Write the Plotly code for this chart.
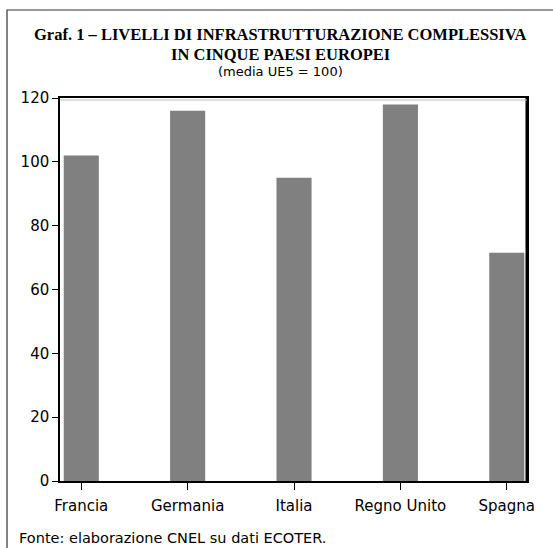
import plotly.graph_objects as go

categories = ["Francia", "Germania", "Italia", "Regno Unito", "Spagna"]
values = [102, 116, 95, 118, 71.5]
y_ticks = [0, 20, 40, 60, 80, 100, 120]

W, H = 553, 548
L, R, T, B = 60, 26, 98, 67
pw, ph = W - L - R, H - T - B

def px_x(x):
    return (x - L) / pw

def px_y(y):
    return (H - B - y) / ph

fig = go.Figure()
fig.add_trace(go.Bar(
    x=list(range(len(categories))), y=values,
    marker=dict(color="#808080", line=dict(width=0)),
    width=0.33,
))

sans = "DejaVu Sans"
serif = "Liberation Serif"
fig.update_layout(
    width=W, height=H,
    margin=dict(l=L, r=R, t=T, b=B),
    paper_bgcolor="white", plot_bgcolor="white",
    showlegend=False,
    xaxis=dict(
        range=[-0.2, 4.19], tickmode="array",
        tickvals=list(range(len(categories))), ticktext=categories,
        showgrid=False, zeroline=False,
        showline=True, linecolor="black", linewidth=1.5, mirror=True,
        ticks="outside", ticklen=7, tickwidth=1.2, tickcolor="black",
        ticklabelstandoff=3,
        tickfont=dict(family=sans, size=15, color="black"),
    ),
    yaxis=dict(
        range=[0, 120], tickmode="array", tickvals=y_ticks,
        ticktext=[str(v) for v in y_ticks],
        showgrid=False, zeroline=False,
        showline=True, linecolor="black", linewidth=1.5, mirror=True,
        ticks="outside", ticklen=6, tickwidth=1.2, tickcolor="black",
        tickfont=dict(family=sans, size=15, color="black"),
    ),
    shapes=[
        dict(type="rect", xref="paper", yref="paper",
             x0=px_x(7), x1=px_x(580), y0=px_y(580), y1=px_y(10),
             line=dict(color="#333333", width=1.2), fillcolor="rgba(0,0,0,0)", layer="below"),
        dict(type="line", xref="paper", yref="paper",
             x0=1, x1=1, y0=0, y1=1, line=dict(color="black", width=3)),
        dict(type="line", xref="paper", yref="paper",
             x0=0, x1=1, y0=px_y(100), y1=px_y(100), line=dict(color="#bbbbbb", width=1)),
    ],
    annotations=[
        dict(text="<b>Graf. 1 – LIVELLI DI INFRASTRUTTURAZIONE COMPLESSIVA</b>",
             xref="paper", yref="paper", x=px_x(280), y=px_y(35),
             xanchor="center", yanchor="middle", showarrow=False,
             font=dict(family=serif, size=16.5, color="black")),
        dict(text="<b>IN CINQUE PAESI EUROPEI</b>",
             xref="paper", yref="paper", x=px_x(280), y=px_y(54),
             xanchor="center", yanchor="middle", showarrow=False,
             font=dict(family=serif, size=16.5, color="black")),
        dict(text="(media UE5 = 100)",
             xref="paper", yref="paper", x=px_x(280), y=px_y(71.5),
             xanchor="center", yanchor="middle", showarrow=False,
             font=dict(family=sans, size=13, color="black")),
        dict(text="Fonte: elaborazione CNEL su dati ECOTER.",
             xref="paper", yref="paper", x=px_x(17), y=px_y(538),
             xanchor="left", yanchor="middle", showarrow=False,
             font=dict(family=sans, size=14.5, color="black")),
    ],
)

fig.write_html(
    "out.html",
    config={"displayModeBar": False},
    post_script="document.body.style.margin='0';document.body.style.overflow='hidden';",
)
